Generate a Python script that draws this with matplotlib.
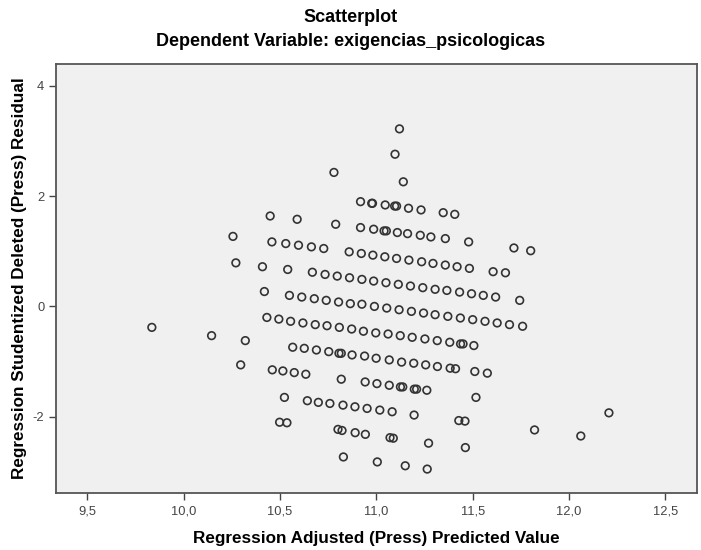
import numpy as np
import matplotlib.pyplot as plt
from matplotlib.ticker import FuncFormatter

plt.rcParams['font.family'] = ['Liberation Sans', 'DejaVu Sans']

# adjusted predicted values
pred = [
    11.120, 11.097, 10.780, 11.140,
    10.918, 10.976, 10.980, 11.046, 11.095, 11.105, 11.167, 11.232, 11.347, 11.407,
    10.449, 10.589, 10.789, 10.918, 10.986, 11.040, 11.052, 11.109, 11.162, 11.228, 11.283, 11.358, 11.479,
    10.256, 10.458, 10.530, 10.596, 10.663, 10.727, 10.859, 10.922, 10.982, 11.044, 11.105, 11.169,
    11.235, 11.294, 11.358, 11.419, 11.483, 11.714, 11.801,
    10.271, 10.409, 10.540, 10.668, 10.734, 10.797, 10.861, 10.925, 10.986, 11.050, 11.114, 11.177,
    11.241, 11.305, 11.366, 11.432, 11.494, 11.555, 11.619, 11.744, 11.606, 11.670,
    10.419, 10.549, 10.613, 10.678, 10.740, 10.804, 10.865, 10.925, 10.990, 11.054, 11.118, 11.182,
    11.245, 11.305, 11.371, 11.436, 11.500, 11.564, 11.627, 11.691, 11.759,
    10.432, 10.494, 10.555, 10.619, 10.683, 10.744, 10.808, 10.872, 10.933, 10.997, 11.061, 11.124,
    11.186, 11.252, 11.316, 11.381, 11.437, 11.450, 11.506,
    9.835, 10.145, 10.320,
    10.566, 10.626, 10.689, 10.753, 10.806, 10.818, 10.874, 10.939, 10.999, 11.067, 11.131, 11.194,
    11.256, 11.317, 11.383, 11.411, 11.511, 11.576,
    10.296, 10.460, 10.515, 10.574, 10.634, 10.818, 10.942, 11.003, 11.067, 11.125, 11.137, 11.197,
    11.209, 11.262,
    10.523, 11.517, 10.642, 10.699, 10.759, 10.827, 10.889, 10.952, 11.018, 11.082, 11.196,
    10.498, 10.536, 11.428, 11.460, 12.207, 10.801, 10.822, 10.890, 10.943, 11.071, 11.088,
    11.271, 11.462, 11.821, 12.061,
    10.829, 11.005, 11.150, 11.264,
]

# studentized deleted residuals
resid = [
    3.22, 2.76, 2.43, 2.26,
    1.90, 1.87, 1.87, 1.84, 1.82, 1.82, 1.78, 1.75, 1.70, 1.67,
    1.64, 1.58, 1.49, 1.43, 1.40, 1.37, 1.37, 1.34, 1.32, 1.29, 1.26, 1.23, 1.17,
    1.27, 1.17, 1.14, 1.11, 1.08, 1.05, 0.99, 0.96, 0.93, 0.90, 0.87, 0.84,
    0.81, 0.78, 0.75, 0.72, 0.69, 1.06, 1.01,
    0.79, 0.72, 0.67, 0.62, 0.58, 0.55, 0.52, 0.49, 0.46, 0.43, 0.40, 0.37,
    0.34, 0.31, 0.29, 0.26, 0.23, 0.20, 0.17, 0.11, 0.63, 0.61,
    0.27, 0.20, 0.17, 0.14, 0.11, 0.08, 0.05, 0.04, 0.00, -0.03, -0.06, -0.09,
    -0.12, -0.15, -0.18, -0.21, -0.24, -0.27, -0.30, -0.33, -0.36,
    -0.20, -0.23, -0.27, -0.30, -0.33, -0.35, -0.38, -0.41, -0.45, -0.48, -0.50, -0.53,
    -0.56, -0.59, -0.62, -0.65, -0.68, -0.68, -0.71,
    -0.38, -0.53, -0.62,
    -0.74, -0.76, -0.79, -0.82, -0.85, -0.85, -0.88, -0.90, -0.94, -0.97, -1.01, -1.03,
    -1.06, -1.09, -1.12, -1.13, -1.18, -1.21,
    -1.06, -1.15, -1.17, -1.20, -1.23, -1.32, -1.37, -1.40, -1.43, -1.46, -1.46, -1.50,
    -1.50, -1.52,
    -1.65, -1.65, -1.71, -1.74, -1.76, -1.79, -1.82, -1.85, -1.88, -1.91, -1.97,
    -2.10, -2.11, -2.07, -2.08, -1.93, -2.23, -2.25, -2.29, -2.32, -2.38, -2.39,
    -2.48, -2.56, -2.24, -2.35,
    -2.73, -2.82, -2.89, -2.95,
]

x_ticks = [9.5, 10.0, 10.5, 11.0, 11.5, 12.0, 12.5]
y_ticks = [-2, 0, 2, 4]

fig = plt.figure(figsize=(7.01, 5.5), dpi=100)
ax = fig.add_axes([0.080, 0.103, 0.914, 0.781])
ax.set_facecolor('#f0f0f0')

ax.scatter(pred, resid, s=30, facecolors='none', edgecolors='#333333', linewidths=1.2)

ax.set_xlim(9.338, 12.663)
ax.set_ylim(-3.39, 4.40)
ax.set_xticks(x_ticks)
ax.set_yticks(y_ticks)
ax.xaxis.set_major_formatter(FuncFormatter(lambda v, p: f'{v:.1f}'.replace('.', ',')))
ax.yaxis.set_major_formatter(FuncFormatter(lambda v, p: f'{v:.0f}'))
ax.tick_params(direction='out', length=5, width=1, color='#444444',
               labelsize=9.3, labelcolor='#444444')

for sp in ax.spines.values():
    sp.set_color('#555555')
    sp.set_linewidth(1.3)

ax.set_xlabel('Regression Adjusted (Press) Predicted Value', fontsize=12.3,
              fontweight='bold', labelpad=10)
ax.set_ylabel('Regression Studentized Deleted (Press) Residual', fontsize=12.3,
              fontweight='bold', labelpad=4)

fig.text(0.5, 0.969, 'Scatterplot', ha='center', va='center',
         fontsize=13, fontweight='bold')
fig.text(0.5, 0.924, 'Dependent Variable: exigencias_psicologicas', ha='center',
         va='center', fontsize=13, fontweight='bold')

fig.savefig('out.png', dpi=100)
